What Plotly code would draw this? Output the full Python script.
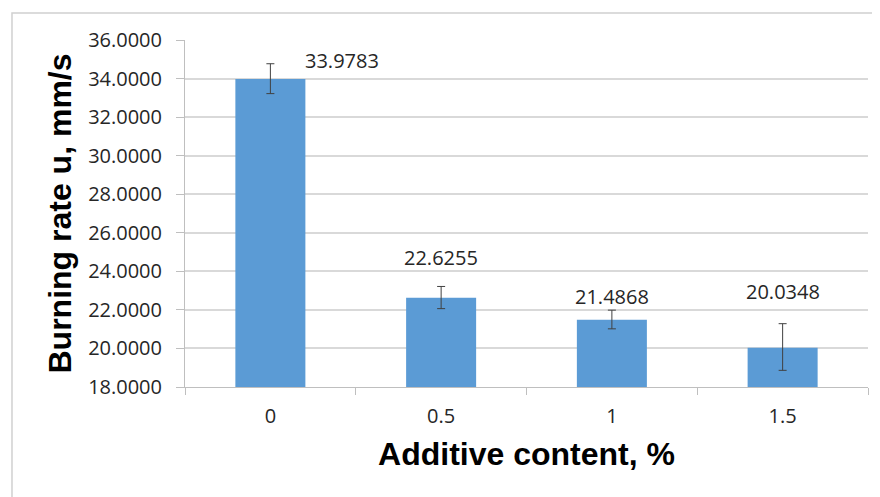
import plotly.graph_objects as go

categories = ["0", "0.5", "1", "1.5"]
burning_rate = [33.9783, 22.6255, 21.4868, 20.0348]
error_plus = [0.79, 0.59, 0.50, 1.25]
error_minus = [0.76, 0.56, 0.47, 1.17]
label_text = ["33.9783", "22.6255", "21.4868", "20.0348"]
y_ticks = [18, 20, 22, 24, 26, 28, 30, 32, 34, 36]

fig = go.Figure()
fig.add_trace(go.Bar(
    x=categories, y=burning_rate,
    marker=dict(color="#5b9bd5", line=dict(width=0)),
    width=0.41,
    error_y=dict(type="data", symmetric=False, array=error_plus, arrayminus=error_minus,
                 color="#404040", thickness=1, width=4),
    showlegend=False,
))

label_shift = [(72, 18), (0, 40), (0, 23), (0, 56)]
for i, (val, txt, (dx, dy)) in enumerate(zip(burning_rate, label_text, label_shift)):
    fig.add_annotation(x=i, y=val, text=txt, showarrow=False, xshift=dx, yshift=dy,
                       font=dict(family="Open Sans, Liberation Sans", size=20, color="#262626"))

fig.add_shape(type="rect", xref="paper", yref="paper", x0=-0.2533, y0=-0.5, x1=1.3, y1=1.0778,
              line=dict(color="#d0d0d0", width=1.5), fillcolor="rgba(0,0,0,0)", layer="below")

fig.update_layout(
    width=880, height=497,
    margin=dict(l=177, r=20, t=32, b=118),
    paper_bgcolor="white", plot_bgcolor="white",
    bargap=0.59,
    xaxis=dict(
        type="category", tickson="boundaries", ticks="outside", ticklen=7, tickcolor="#bfbfbf",
        showline=True, linecolor="#bfbfbf", linewidth=1, showgrid=False,
        ticklabelstandoff=11,
        tickfont=dict(family="Open Sans, Liberation Sans", size=20, color="#262626"),
        title=dict(text="<b>Additive content, %</b>", standoff=14,
                   font=dict(family="Liberation Sans, Arial", size=32, color="black")),
    ),
    yaxis=dict(
        range=[18, 36], tickvals=y_ticks, tickformat=".4f",
        ticks="outside", ticklen=8, tickcolor="#bfbfbf",
        showline=True, linecolor="#bfbfbf", linewidth=1,
        ticklabelstandoff=10,
        showgrid=True, gridcolor="#d9d9d9", gridwidth=1.5, zeroline=False,
        tickfont=dict(family="Open Sans, Liberation Sans", size=20, color="#262626"),
        title=dict(text="<b>Burning rate u, mm/s</b>", standoff=6,
                   font=dict(family="Liberation Sans, Arial", size=32, color="black")),
    ),
)

fig.write_html("out.html")
